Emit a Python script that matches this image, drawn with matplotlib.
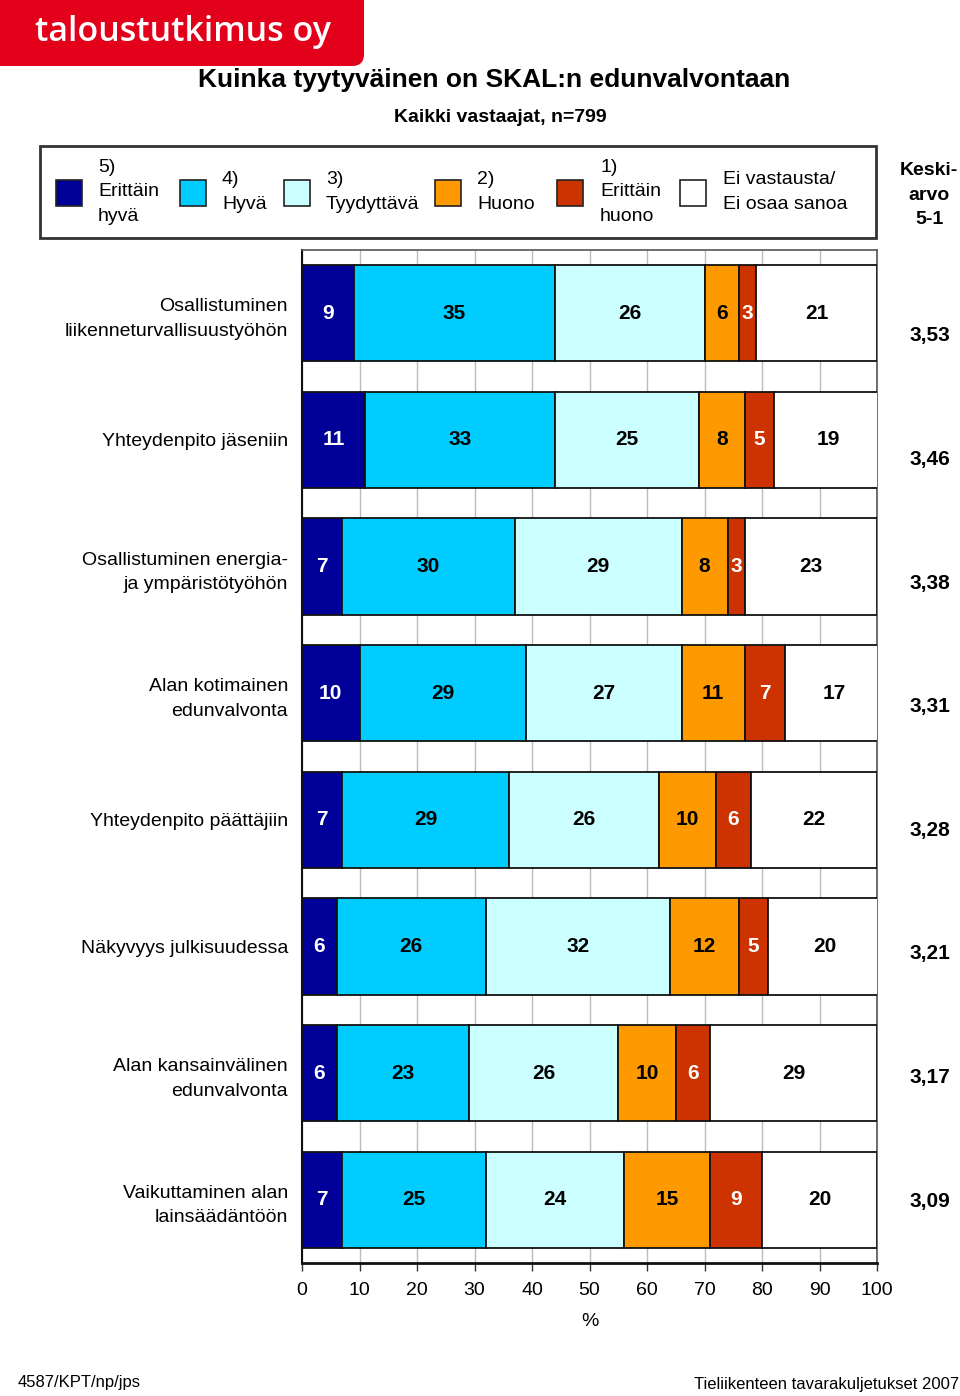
import numpy as np
import matplotlib
matplotlib.use("Agg")
import matplotlib.pyplot as plt
from matplotlib import font_manager
from matplotlib.patches import Rectangle, FancyBboxPatch

# data
categories = [
    "Osallistuminen\nliikenneturvallisuustyöhön",
    "Yhteydenpito jäseniin",
    "Osallistuminen energia-\nja ympäristötyöhön",
    "Alan kotimainen\nedunvalvonta",
    "Yhteydenpito päättäjiin",
    "Näkyvyys julkisuudessa",
    "Alan kansainvälinen\nedunvalvonta",
    "Vaikuttaminen alan\nlainsäädäntöön",
]
erittain_hyva = [9, 11, 7, 10, 7, 6, 6, 7]
hyva = [35, 33, 30, 29, 29, 26, 23, 25]
tyydyttava = [26, 25, 29, 27, 26, 32, 26, 24]
huono = [6, 8, 8, 11, 10, 12, 10, 15]
erittain_huono = [3, 5, 3, 7, 6, 5, 6, 9]
ei_vastausta = [21, 19, 23, 17, 22, 20, 29, 20]
keskiarvo = ["3,53", "3,46", "3,38", "3,31", "3,28", "3,21", "3,17", "3,09"]

series = [erittain_hyva, hyva, tyydyttava, huono, erittain_huono, ei_vastausta]
colors = ["#000099", "#00CCFF", "#CCFFFF", "#FF9900", "#CC3300", "#FFFFFF"]
label_colors = ["white", "black", "black", "black", "white", "black"]
legend_texts = ["5)\nErittäin\nhyvä", "4)\nHyvä", "3)\nTyydyttävä", "2)\nHuono",
                "1)\nErittäin\nhuono", "Ei vastausta/\nEi osaa sanoa"]

W, H = 960, 1396


def have_font(name):
    try:
        font_manager.findfont(name, fallback_to_default=False)
        return True
    except Exception:
        return False


base_font = "Liberation Sans" if have_font("Liberation Sans") else "DejaVu Sans"
narrow_font = "Liberation Sans Narrow" if have_font("Liberation Sans Narrow") else base_font
plt.rcParams["font.family"] = [base_font, "DejaVu Sans"]


def fx(x):
    return x / W


def fy(y):
    return 1 - y / H


fig = plt.figure(figsize=(W / 100, H / 100), dpi=100)

# logo
fig.patches.append(FancyBboxPatch((fx(-20), fy(66)), fx(384), 66 / H + 0.02,
                                  boxstyle="round,pad=0,rounding_size=0.012",
                                  transform=fig.transFigure, facecolor="#E2001A",
                                  edgecolor="none", mutation_aspect=W / H))
fig.text(fx(35), fy(32), "taloustutkimus oy", color="white", fontsize=24.5,
         fontweight="semibold", ha="left", va="center",
         family=["Open Sans", "DejaVu Sans"])

# titles
fig.text(fx(494), fy(80), "Kuinka tyytyväinen on SKAL:n edunvalvontaan",
         fontsize=19, fontweight="bold", ha="center", va="center")
fig.text(fx(500), fy(117), "Kaikki vastaajat, n=799", fontsize=14,
         fontweight="bold", ha="center", va="center")

# legend box
fig.patches.append(Rectangle((fx(40), fy(238)), fx(836), 92 / H,
                             transform=fig.transFigure, facecolor="white",
                             edgecolor="#333333", lw=2))
sq_x = [56, 180, 284, 435, 557, 680]
txt_x = [98, 222, 326, 477, 600, 723]
for sx, tx, col, txt in zip(sq_x, txt_x, colors, legend_texts):
    fig.patches.append(Rectangle((fx(sx), fy(206)), fx(26), 26 / H,
                                 transform=fig.transFigure, facecolor=col,
                                 edgecolor="#222222", lw=1.2))
    fig.text(fx(tx), fy(192), txt, fontsize=14, ha="left", va="center",
             linespacing=1.55)

fig.text(fx(929), fy(195), "Keski-\narvo\n5-1", fontsize=14, fontweight="bold",
         ha="center", va="center", linespacing=1.55)

# main axes
ax = fig.add_axes([fx(302), fy(1263), fx(575), (1263 - 250) / H])
y = np.arange(len(categories))
left = np.zeros(len(categories))
for vals, col, lc in zip(series, colors, label_colors):
    vals = np.array(vals, dtype=float)
    ax.barh(y, vals, left=left, height=0.76, color=col, edgecolor="#111111",
            lw=1.3, zorder=3)
    for yi, l, v in zip(y, left, vals):
        ax.text(l + v / 2, yi, f"{int(v)}", color=lc, fontsize=15,
                fontweight="bold", ha="center", va="center", zorder=4,
                family=[narrow_font, "DejaVu Sans"])
    left += vals

ax.set_xlim(0, 100)
ax.set_ylim(len(categories) - 0.5, -0.5)
ax.set_xticks(np.arange(0, 101, 10))
ax.tick_params(axis="x", labelsize=14, length=6, width=1, color="#333333", pad=8)
ax.set_yticks(y)
ax.set_yticklabels(categories, fontsize=14, linespacing=1.6)
ax.tick_params(axis="y", length=0, pad=10)
ax.grid(axis="x", color="#BBBBBB", lw=1, zorder=0)
ax.set_xlabel("%", fontsize=14, labelpad=10)
for s in ["top", "right"]:
    ax.spines[s].set_color("#555555")
    ax.spines[s].set_linewidth(1.2)
ax.spines["left"].set_color("#111111")
ax.spines["left"].set_linewidth(1.5)
ax.spines["bottom"].set_color("#111111")
ax.spines["bottom"].set_linewidth(2)

# mean values
mean_y = np.linspace(336, 1201, len(keskiarvo))
for my, m in zip(mean_y, keskiarvo):
    fig.text(fx(930), fy(my), m, fontsize=15, fontweight="bold",
             ha="center", va="center", family=[narrow_font, "DejaVu Sans"])

# footer
fig.text(fx(18), fy(1383), "4587/KPT/np/jps", fontsize=12, ha="left", va="center")
fig.text(fx(959), fy(1385), "Tieliikenteen tavarakuljetukset 2007", fontsize=12,
         ha="right", va="center", family=[narrow_font, "DejaVu Sans"])

fig.savefig("out.png", dpi=100)
